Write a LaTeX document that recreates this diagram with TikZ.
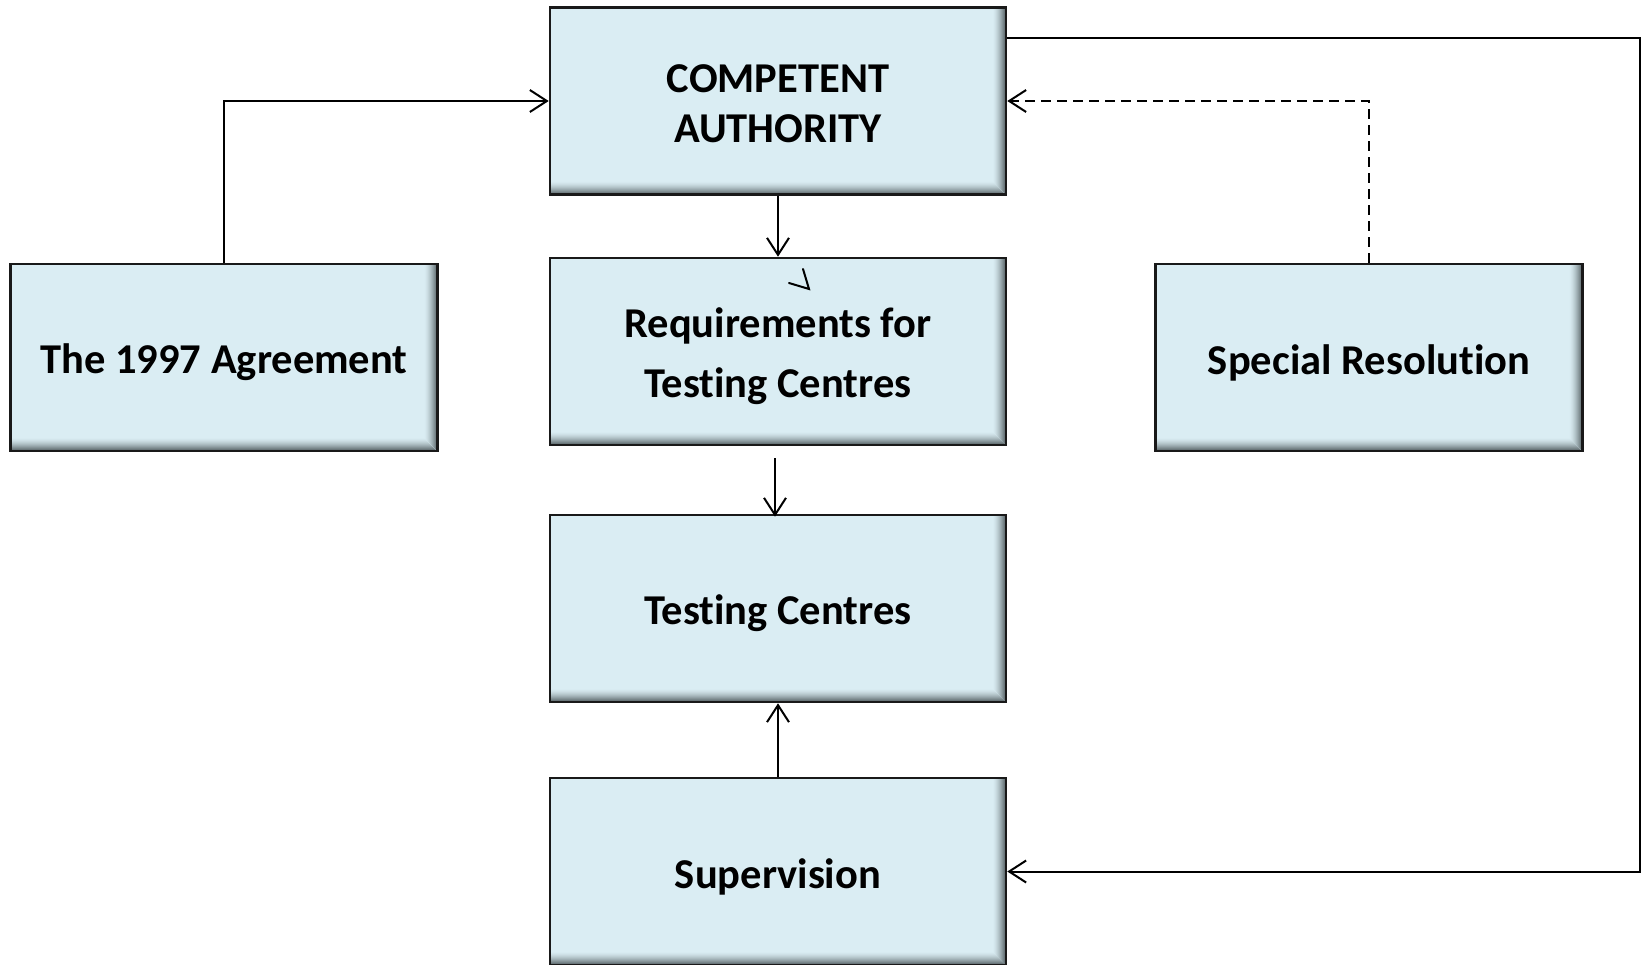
\documentclass[tikz,border=0pt]{standalone}
\usepackage{fontspec}
\setmainfont{Carlito}[Ligatures={NoCommon}]
\usetikzlibrary{arrows.meta}
\definecolor{boxfill}{HTML}{DAEDF3}
\definecolor{boxshade}{HTML}{4A5558}
\tikzset{
  box/.style={draw=black!90, line width=2.6pt, fill=boxfill, inner sep=0pt,
    minimum width=456pt, minimum height=187pt,
    path picture={
      \foreach \k in {14,...,1}{
        \pgfmathsetmacro\m{100*(1-((14-\k)/14)^1.6)}
        \fill[boxfill!\m!boxshade]
          (path picture bounding box.south west) -- (path picture bounding box.south east)
          -- ([xshift=-\k pt, yshift=\k pt]path picture bounding box.south east)
          -- ([yshift=\k pt]path picture bounding box.south west) -- cycle;
      }
      \foreach \k in {14,...,1}{
        \pgfmathsetmacro\m{100*(1-((14-\k)/14)^1.6)}
        \fill[boxfill!\m!boxshade]
          ([xshift=-\k pt]path picture bounding box.north east) -- (path picture bounding box.north east)
          -- (path picture bounding box.south east)
          -- ([xshift=-\k pt, yshift=\k pt]path picture bounding box.south east) -- cycle;
      }
    }},
  widebox/.style={box, minimum width=427pt},
  txt/.style={align=center, inner sep=0pt, font=\fontsize{42.5}{50}\selectfont\bfseries},
  link/.style={line width=2pt, draw=black, -{Straight Barb[length=17pt,width=22pt,line width=2pt]}},
  dashlink/.style={link, dash pattern=on 10pt off 6pt}
}
\begin{document}
\begin{tikzpicture}[x=1pt,y=-1pt]
\useasboundingbox (0,0) rectangle (1646,964);
\node[box] (ca) at (778,101) {};
\node[box] (req) at (778,351.5) {};
\node[box] (test) at (778,608.5) {};
\node[box] (sup) at (778,871.5) {};
\node[widebox] (agr) at (224,357.5) {};
\node[widebox] (spec) at (1369,357.5) {};
\node[txt] (ca-t) at ([yshift=-3pt]ca.center) {COMPETENT\\AUTHORITY};
\node[txt, font=\fontsize{42.5}{60}\selectfont\bfseries] (req-t) at ([yshift=-5pt]req.center) {Requirements for\\Testing Centres};
\node[txt] (test-t) at ([yshift=-5pt]test.center) {Testing Centres};
\node[txt] (sup-t) at ([yshift=-5pt]sup.center) {Supervision};
\node[txt] (agr-t) at ([yshift=-5pt]agr.center) {The 1997 Agreement};
\node[txt] (spec-t) at ([yshift=-5pt]spec.center) {Special Resolution};
\coordinate (rt) at (1640,38);
% connectors
\draw[link] (agr.north) |- (ca.west);
\draw[link] (ca.south) -- (req.north);
\draw[link] ([xshift=-3pt,yshift=-12pt]req.south) -- ([xshift=-3pt,yshift=-3pt]test.north);
\draw[link] (sup.north) -- (test.south);
\draw[dashlink] (spec.north) |- (ca.east);
\draw[link] (ca.east |- rt) -- (rt) |- (sup.east);
% stray mark
\draw[line width=2pt, line cap=round] (789,283) -- (809,289) -- (803,269);
\end{tikzpicture}
\end{document}
